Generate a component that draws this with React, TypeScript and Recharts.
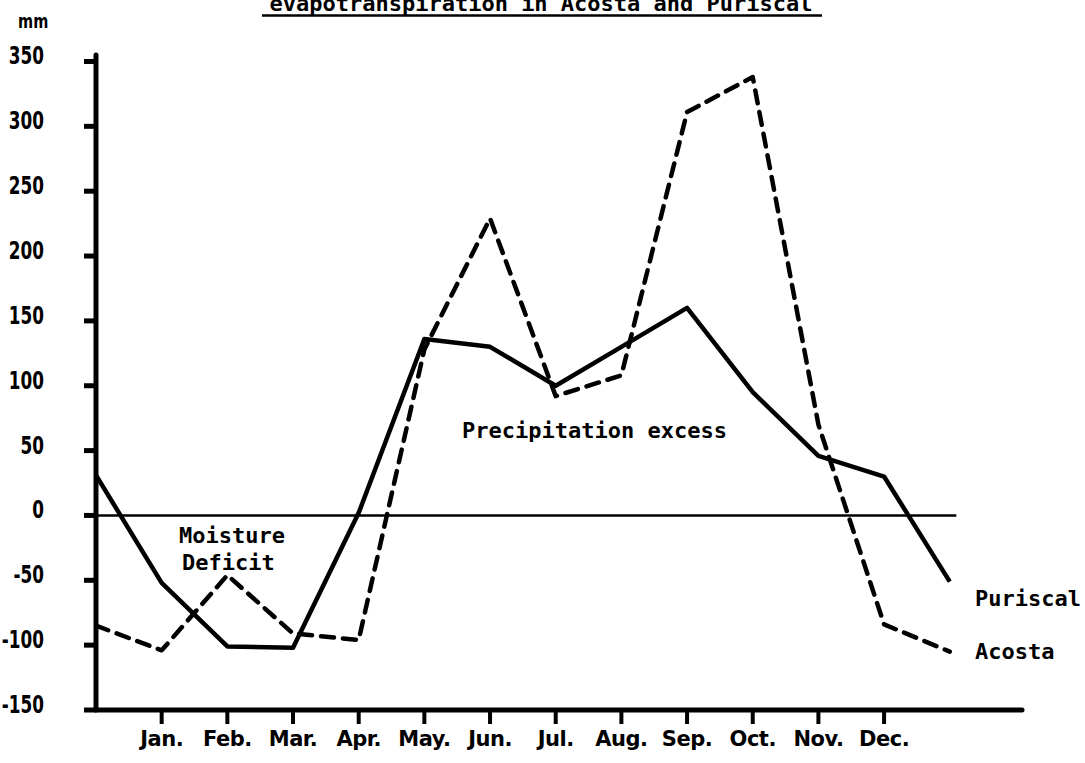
import React from "react";
import {
  LineChart,
  Line,
  XAxis,
  YAxis,
  ReferenceLine,
} from "recharts";

// positions along the x axis: 0 = y axis, 1..12 = months, 13 = line end
const steps = [0, 1, 2, 3, 4, 5, 6, 7, 8, 9, 10, 11, 12, 13];
const months = ["Jan.", "Feb.", "Mar.", "Apr.", "May.", "Jun.", "Jul.", "Aug.", "Sep.", "Oct.", "Nov.", "Dec."];
const monthTicks = [1, 2, 3, 4, 5, 6, 7, 8, 9, 10, 11, 12];
const puriscal = [31, -52, -101, -102, 2, 136, 130, 100, 130, 160, 95, 46, 30, -51];
const acosta = [-85, -104, -46, -91, -96, 128, 229, 92, 108, 311, 338, 70, -84, -105];
const yTicks = [-150, -100, -50, 0, 50, 100, 150, 200, 250, 300, 350];

const data = steps.map((s, i) => ({ x: s, puriscal: puriscal[i], acosta: acosta[i] }));

const narrowFont = "'DejaVu Sans Condensed', 'DejaVu Sans', sans-serif";
const labelFont = "'DejaVu Sans', sans-serif";
const typeFont = "'DejaVu Sans Mono', monospace";

// tall, narrow bold numbers like the scanned original
const YTick = (props: any) => {
  const { x, y, payload } = props;
  const v = payload.value as number;
  const txt = v < 0 ? "-" + Math.abs(v) : String(v);
  return (
    <g transform={`translate(${x},${y + 3})`}>
      <text transform="scale(0.78,1)" textAnchor="end" fontFamily={narrowFont} fontWeight="bold" fontSize={24} fill="#000">
        {txt}
      </text>
    </g>
  );
};

const XTick = (props: any) => {
  const { x, y, payload } = props;
  return (
    <text x={x} y={y} dy={16} textAnchor="middle" fontFamily={labelFont} fontWeight="bold" fontSize={21} letterSpacing={-0.5} fill="#000">
      {months[payload.value - 1]}
    </text>
  );
};

export default function App() {
  return (
    <div style={{ position: "absolute", left: 0, top: 0, width: 1085, height: 763, background: "#fff" }}>
      <LineChart
        width={1085}
        height={763}
        data={data}
        margin={{ top: 55, right: 63, bottom: 8, left: 16 }}
      >
        <XAxis
          dataKey="x"
          type="number"
          domain={[0, 14.1]}
          ticks={monthTicks}
          allowDataOverflow
          height={45}
          axisLine={{ stroke: "#000", strokeWidth: 5, strokeLinecap: "round" }}
          tickLine={{ stroke: "#000", strokeWidth: 4 }}
          tickSize={14}
          tickMargin={6}
          tick={<XTick />}
        />
        <YAxis
          type="number"
          domain={[-150, 355]}
          ticks={yTicks}
          allowDataOverflow
          width={80}
          axisLine={{ stroke: "#000", strokeWidth: 5, strokeLinecap: "round" }}
          tickLine={{ stroke: "#000", strokeWidth: 5 }}
          tickSize={12}
          tickMargin={40}
          tick={<YTick />}
        />
        <ReferenceLine
          segment={[{ x: 0, y: 0 }, { x: 13.1, y: 0 }]}
          stroke="#000"
          strokeWidth={2.5}
        />
        <Line
          type="linear"
          dataKey="puriscal"
          stroke="#000"
          strokeWidth={4.5}
          strokeLinejoin="round"
          dot={false}
          isAnimationActive={false}
        />
        <Line
          type="linear"
          dataKey="acosta"
          stroke="#000"
          strokeWidth={4.5}
          strokeDasharray="13 9"
          strokeLinecap="round"
          strokeLinejoin="round"
          dot={false}
          isAnimationActive={false}
        />
      </LineChart>
      <svg
        width={1085}
        height={763}
        style={{ position: "absolute", left: 0, top: 0, pointerEvents: "none" }}
      >
        <text x={541} y={11} textAnchor="middle" fontFamily={typeFont} fontWeight="bold" fontSize={22}>
          evapotranspiration in Acosta and Puriscal
        </text>
        <line x1={262} y1={15.5} x2={822} y2={15.5} stroke="#000" strokeWidth={2.5} />
        <g transform="translate(18,28)">
          <text transform="scale(0.85,1)" fontFamily={narrowFont} fontWeight="bold" fontSize={19}>mm</text>
        </g>
        <text x={179} y={543} fontFamily={typeFont} fontWeight="bold" fontSize={22}>Moisture</text>
        <text x={182} y={570} fontFamily={typeFont} fontWeight="bold" fontSize={22}>Deficit</text>
        <text x={462} y={438} fontFamily={typeFont} fontWeight="bold" fontSize={22}>Precipitation excess</text>
        <text x={975} y={606} fontFamily={typeFont} fontWeight="bold" fontSize={22}>Puriscal</text>
        <text x={975} y={659} fontFamily={typeFont} fontWeight="bold" fontSize={22}>Acosta</text>
      </svg>
    </div>
  );
}
